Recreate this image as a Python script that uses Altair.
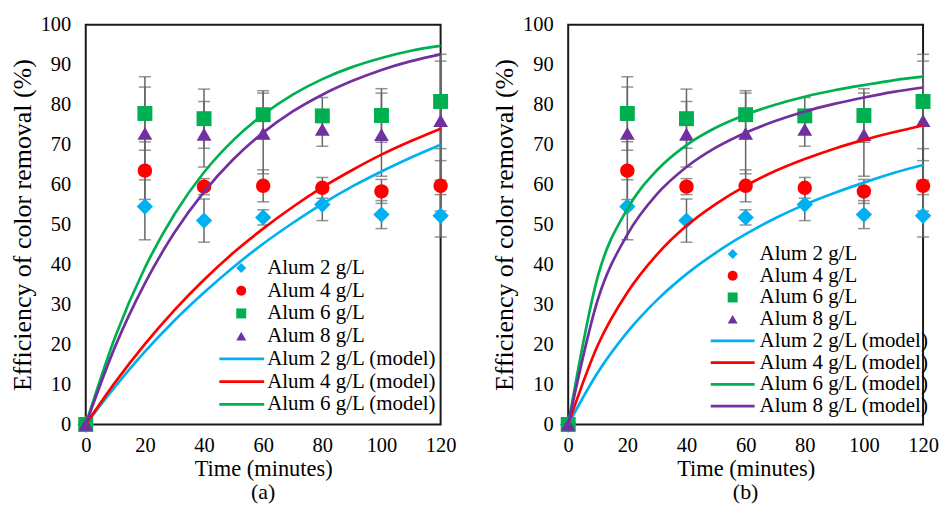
import altair as alt
import pandas as pd

# ---------------- data ----------------
series = ["Alum 2 g/L", "Alum 4 g/L", "Alum 6 g/L", "Alum 8 g/L"]
colors = ["#00B0F0", "#FF0000", "#00B050", "#7030A0"]
shapes = ["diamond", "circle", "square", "triangle-up"]
marker_sizes = [270, 210, 225, 220]

t_exp = [0, 20, 40, 60, 80, 100, 120]
alum2 = [0, 54.5, 51.0, 51.8, 55.0, 52.5, 52.2]
alum4 = [0, 63.5, 59.5, 59.7, 59.2, 58.3, 59.7]
alum6 = [0, 77.8, 76.5, 77.5, 77.2, 77.3, 80.8]
alum8 = [0, 72.8, 72.6, 72.8, 73.8, 72.5, 76.0]
err2 = [0, 8.3, 5.4, 1.9, 4.0, 3.5, 5.3]
err4 = [0, 7.2, 2.0, 4.0, 2.6, 3.0, 6.3]
err6 = [0, 9.2, 7.4, 6.0, 4.6, 6.7, 11.8]
err8 = [0, 11.6, 8.2, 10.1, 4.2, 10.4, 14.9]

t_model = [0, 10, 20, 30, 40, 50, 60, 70, 80, 90, 100, 110, 120]
# panel (a) model curves
a_model2 = [0, 9.5, 18.2, 26.0, 33.0, 39.4, 45.2, 50.4, 55.2, 59.5, 63.3, 66.8, 70.0]
a_model4 = [0, 10.6, 20.1, 28.6, 36.2, 43.0, 49.0, 54.4, 59.3, 63.6, 67.5, 70.9, 74.0]
a_model6 = [0, 22.0, 39.2, 52.6, 63.1, 71.2, 77.5, 82.5, 86.4, 89.4, 91.7, 93.5, 94.7]
a_model8 = [0, 19.6, 35.3, 48.0, 58.2, 66.4, 73.0, 78.3, 82.5, 85.9, 88.7, 90.9, 92.6]
# panel (b) model curves
b_model2 = [0, 13.0, 23.1, 31.1, 37.6, 43.0, 47.6, 51.6, 55.0, 57.9, 60.5, 62.9, 64.9]
b_model4 = [0, 19.8, 33.0, 42.5, 49.7, 55.2, 59.7, 63.4, 66.4, 69.0, 71.2, 73.1, 74.8]
b_model6 = [0, 37.0, 53.9, 63.6, 69.9, 74.3, 77.5, 80.0, 82.0, 83.6, 84.9, 86.1, 87.0]
b_model8 = [0, 31.2, 47.5, 57.6, 64.4, 69.3, 73.0, 75.9, 78.3, 80.2, 81.8, 83.2, 84.3]

x_ticks = [0, 20, 40, 60, 80, 100, 120]
y_ticks = [0, 10, 20, 30, 40, 50, 60, 70, 80, 90, 100]

legend_a_models = 3   # panel (a) legend lists only three model lines
legend_b_models = 4

FONT = "Liberation Serif"
GRAY = "#666666"
H = 401

# ---------------- tables ----------------
rows = []
for s, c, sh, sz, vals, errs in zip(series, colors, shapes, marker_sizes,
                                    [alum2, alum4, alum6, alum8],
                                    [err2, err4, err6, err8]):
    for t, v, e in zip(t_exp, vals, errs):
        rows.append(dict(series=s, color=c, shape=sh, sz=sz, t=t, v=v,
                         lo=v - e, hi=v + e))
pts = pd.DataFrame(rows)
errs_df = pts[pts.t > 0]


def model_df(curves):
    r = []
    for s, c, vals in zip(series, colors, curves):
        for t, v in zip(t_model, vals):
            r.append(dict(series=s + " (model)", color=c, t=t, v=v))
    return pd.DataFrame(r)


def legend_df(n_models):
    r = []
    i = 0
    for s, c, sh in zip(series, colors, shapes):
        r.append(dict(label=s, color=c, shape=sh, kind="point", row=i))
        i += 1
    for s, c in list(zip(series, colors))[:n_models]:
        r.append(dict(label=s + " (model)", color=c, shape="stroke", kind="line", row=i))
        i += 1
    return pd.DataFrame(r)


X = alt.X("t:Q", scale=alt.Scale(domain=[0, 120], nice=False, zero=False, padding=0),
          axis=alt.Axis(values=x_ticks, title="Time (minutes)", labelPadding=11.5,
                        titleY=51.5, titleBaseline="alphabetic", labelFlush=False,
                        titleFontSize=22.5))
Y = alt.Y("v:Q", scale=alt.Scale(domain=[0, 100], nice=False, padding=0),
          axis=alt.Axis(values=y_ticks, title="Efficiency of color removal (%)",
                        labelPadding=15, titlePadding=5, titleFontSize=26))


def panel(curves, n_models, label, width, leg_y0, leg_dy, sym_x, line_x0, line_x1, text_x):
    base = alt.Chart(pts)
    err_rule = alt.Chart(errs_df).mark_rule(color=GRAY, strokeWidth=1.5).encode(
        x=X, y=alt.Y("lo:Q"), y2="hi:Q")
    cap_lo = alt.Chart(errs_df).mark_tick(orient="horizontal", size=12, thickness=1.5,
                                          color=GRAY).encode(x=X, y=alt.Y("lo:Q"))
    cap_hi = alt.Chart(errs_df).mark_tick(orient="horizontal", size=12, thickness=1.5,
                                          color=GRAY).encode(x=X, y=alt.Y("hi:Q"))
    points = base.mark_point(filled=True, opacity=1, clip=False).encode(
        x=X, y=Y,
        color=alt.Color("color:N", scale=None),
        shape=alt.Shape("shape:N", scale=None),
        size=alt.Size("sz:Q", scale=None))
    lines = alt.Chart(model_df(curves)).mark_line(strokeWidth=2.7, interpolate="monotone").encode(
        x=X, y=Y, color=alt.Color("color:N", scale=None), detail="series:N")

    main = alt.layer(err_rule, cap_lo, cap_hi, points, lines)

    leg = legend_df(n_models)
    calc = f"{leg_y0} + datum.row * {leg_dy}"
    ly = alt.Y("py:Q", scale=None, axis=None)
    leg_pts = alt.Chart(leg).transform_filter("datum.kind == 'point'").transform_calculate(
        py=calc).mark_point(filled=True, opacity=1, size=100).encode(
        x=alt.value(sym_x), y=ly,
        color=alt.Color("color:N", scale=None),
        shape=alt.Shape("shape:N", scale=None))
    leg_lines = alt.Chart(leg).transform_filter("datum.kind == 'line'").transform_calculate(
        py=calc).mark_rule(strokeWidth=2.7).encode(
        x=alt.value(line_x0), x2=alt.value(line_x1), y=ly,
        color=alt.Color("color:N", scale=None))
    leg_text = alt.Chart(leg).transform_calculate(py=calc).mark_text(
        align="left", baseline="middle", font=FONT, fontSize=21, color="black").encode(
        x=alt.value(text_x), y=ly, text="label:N")

    legend = alt.layer(leg_pts, leg_lines, leg_text)
    return alt.layer(main, legend).resolve_scale(y="independent").properties(
        width=width, height=H,
        title=alt.TitleParams(label, orient="bottom", anchor="middle", offset=2,
                              font=FONT, fontSize=22, fontWeight="normal", color="black"))


pa = panel([a_model2, a_model4, a_model6, a_model8], legend_a_models, "(a)", 356,
           244, 22.8, 156, 134, 179, 182)
pb = panel([b_model2, b_model4, b_model6, b_model8], legend_b_models, "(b)", 356,
           230, 21.8, 165, 143, 187, 192)

chart = alt.hconcat(pa, pb, spacing=33).properties(
    padding={"left": 0, "top": 5, "right": 0, "bottom": 0}
).configure_view(stroke="#1a1a1a", strokeWidth=2).configure_axis(
    labelFont=FONT, labelFontSize=20.5, labelColor="black",
    titleFont=FONT, titleFontWeight="normal", titleColor="black",
    domain=False, ticks=False, grid=False)

chart.save("out.html", embed_options={"renderer": "svg", "actions": False})
